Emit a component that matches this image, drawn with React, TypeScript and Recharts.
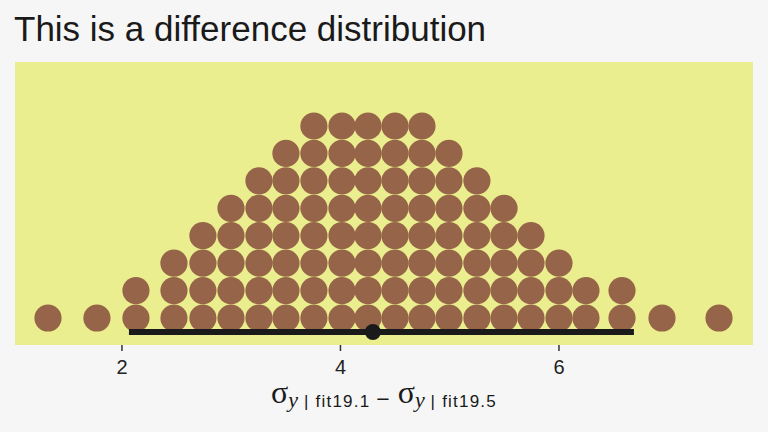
import React from 'react';
import { ScatterChart, Scatter, XAxis, YAxis, CartesianGrid } from 'recharts';

// ---- data ----
const binCenters = [1.323, 1.771, 2.128, 2.476, 2.741, 2.998, 3.254, 3.501, 3.757, 4.014, 4.252, 4.499, 4.746, 4.993, 5.249, 5.497, 5.744, 6.0, 6.247, 6.577, 6.943, 7.465];
const binCounts = [1, 1, 2, 3, 4, 5, 6, 7, 8, 8, 8, 8, 8, 7, 6, 5, 4, 3, 2, 2, 1, 1];
const intervalLow = 2.064;
const intervalHigh = 6.686;
const pointEstimate = 4.297;
const intervalRow = -0.51;
const xTicks = [2, 4, 6];
const xDomain = [1.021, 7.776];
const yDomain = [-0.984, 9.333];
const titleText = 'This is a difference distribution';

// ---- tables built from the arrays ----
const dots: { x: number; y: number }[] = [];
binCenters.forEach((c, i) => {
  for (let r = 0; r < binCounts[i]; r++) dots.push({ x: c, y: r });
});
const intervalData = [
  { x: intervalLow, y: intervalRow },
  { x: intervalHigh, y: intervalRow },
];
const pointData = [{ x: pointEstimate, y: intervalRow }];

const SANS = '"Liberation Sans", Arial, Helvetica, sans-serif';
const SERIF = '"Liberation Serif", "DejaVu Serif", serif';

const DotShape = (props: any) => (
  <circle cx={props.cx} cy={props.cy} r={13.6} fill="#966448" />
);
const PointShape = (props: any) => (
  <circle cx={props.cx} cy={props.cy} r={8} fill="#1a1a1a" />
);
const NoShape = () => null;

const AxisLabel = (props: any) => {
  const vb = props.viewBox || { x: 15, y: 345, width: 738, height: 40 };
  const cx = vb.x + vb.width / 2;
  const y = vb.y + 58;
  return (
    <text x={cx} y={y} textAnchor="middle" fill="#1a1a1a" fontFamily={SANS}>
      <tspan fontFamily={SERIF} fontSize={32}>σ</tspan>
      <tspan fontFamily={SERIF} fontStyle="italic" fontSize={22} dy={4}>y</tspan>
      <tspan fontSize={17} letterSpacing={1.2}>{' | fit19.1 '}</tspan>
      <tspan fontSize={23}>−</tspan>
      <tspan fontFamily={SERIF} fontSize={32} dy={-4}>{' σ'}</tspan>
      <tspan fontFamily={SERIF} fontStyle="italic" fontSize={22} dy={4}>y</tspan>
      <tspan fontSize={17} letterSpacing={1.2}>{' | fit19.5'}</tspan>
    </text>
  );
};

export default function App() {
  return (
    <div style={{ position: 'absolute', left: 0, top: 0, width: 768, height: 432, background: '#F6F6F6' }}>
      <svg width={768} height={60} style={{ position: 'absolute', left: 0, top: 0 }}>
        <text x={14} y={41} fontFamily={SANS} fontSize={35} fill="#1a1a1a">{titleText}</text>
      </svg>
      <div style={{ position: 'absolute', left: 0, top: 0 }}>
        <ScatterChart width={768} height={432} margin={{ top: 62, right: 15, bottom: 47, left: 15 }}>
          <CartesianGrid fill="#EBEE8E" stroke="none" horizontal={false} vertical={false} />
          <XAxis
            type="number"
            dataKey="x"
            domain={xDomain}
            ticks={xTicks}
            allowDataOverflow
            height={40}
            axisLine={false}
            tickSize={6}
            tickMargin={9}
            tickLine={{ stroke: '#333', strokeWidth: 1.5 }}
            tick={{ fill: '#222', fontSize: 20, fontFamily: SANS }}
            label={<AxisLabel />}
          />
          <YAxis type="number" dataKey="y" domain={yDomain} allowDataOverflow hide width={0} />
          <Scatter data={dots} shape={<DotShape />} isAnimationActive={false} />
          <Scatter
            data={intervalData}
            line={{ stroke: '#1a1a1a', strokeWidth: 6 }}
            shape={<NoShape />}
            isAnimationActive={false}
          />
          <Scatter data={pointData} shape={<PointShape />} isAnimationActive={false} />
        </ScatterChart>
      </div>
    </div>
  );
}
